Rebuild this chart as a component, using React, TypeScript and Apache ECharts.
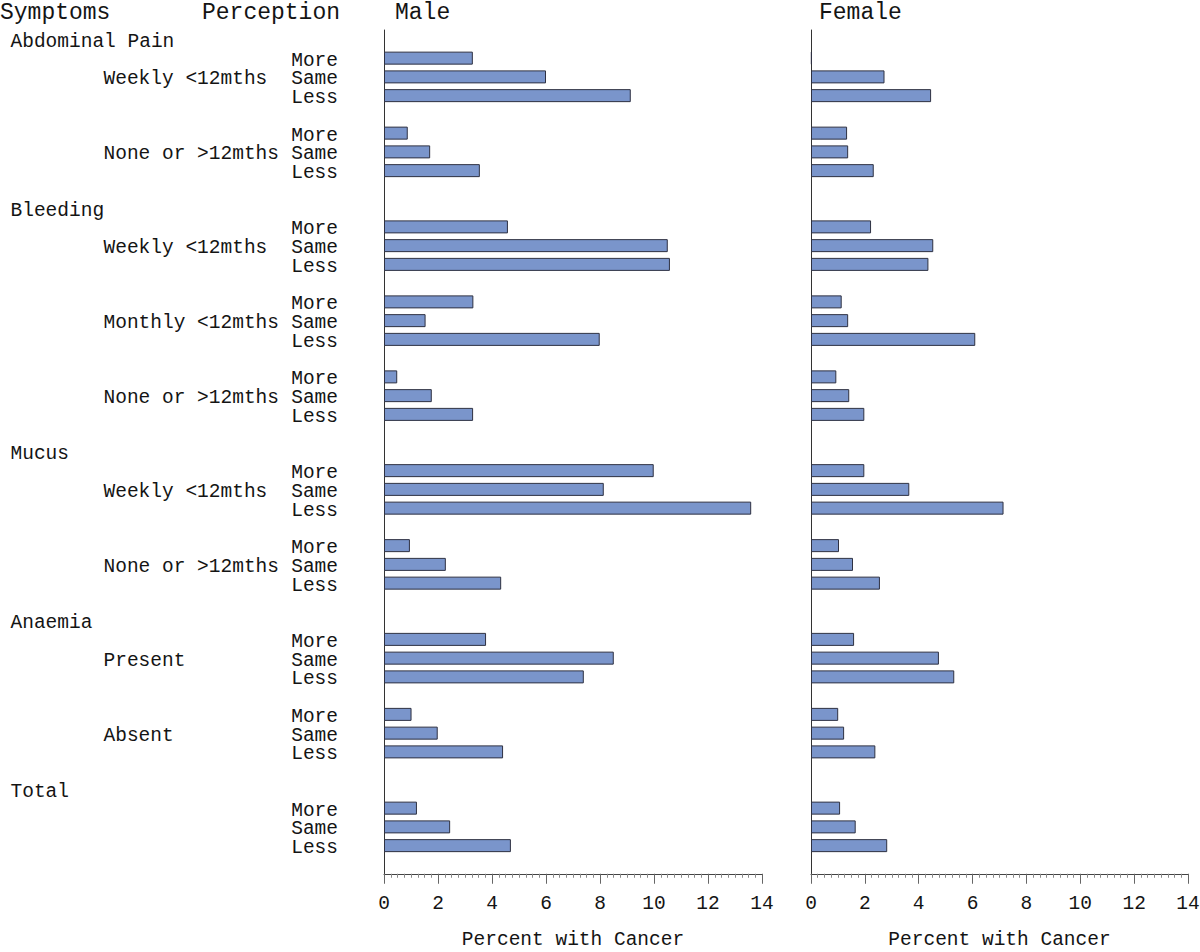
import React, { useEffect, useRef } from "react";
import * as echarts from "echarts";

// ---- data ----
const perceptions = ["More", "Same", "Less"];
const symptoms = ["Abdominal Pain", "Bleeding", "Mucus", "Anaemia", "Total"];
const subgroups = [
  ["Weekly <12mths", "None or >12mths"],
  ["Weekly <12mths", "Monthly <12mths", "None or >12mths"],
  ["Weekly <12mths", "None or >12mths"],
  ["Present", "Absent"],
  [""],
];
const maleValues = [
  [[3.29, 6.0, 9.14], [0.88, 1.71, 3.55]],
  [[4.59, 10.51, 10.59], [3.31, 1.54, 7.99], [0.49, 1.77, 3.3]],
  [[9.99, 8.14, 13.6], [0.96, 2.29, 4.34]],
  [[3.78, 8.51, 7.4], [1.02, 1.99, 4.41]],
  [[1.22, 2.45, 4.7]],
];
const femaleValues = [
  [[0.03, 2.73, 4.46], [1.34, 1.38, 2.33]],
  [[2.23, 4.54, 4.36], [1.14, 1.38, 6.1], [0.94, 1.42, 1.98]],
  [[1.98, 3.65, 7.15], [1.04, 1.56, 2.56]],
  [[1.6, 4.75, 5.32], [1.01, 1.23, 2.39]],
  [[1.08, 1.66, 2.83]],
];
const panelTitles = ["Male", "Female"];
const headerLabels = ["Symptoms", "Perception"];
const xAxisName = "Percent with Cancer";
const xMin = 0;
const xMax = 14;
const xInterval = 2;

type Row = { l1: string; l2: string; p: string; m: number | null; f: number | null };
const rows: Row[] = [];
symptoms.forEach((s, si) => {
  rows.push({ l1: s, l2: "", p: "", m: null, f: null });
  subgroups[si].forEach((g, gi) => {
    perceptions.forEach((p, pi) => {
      rows.push({
        l1: "",
        l2: pi === 1 ? g : "",
        p,
        m: maleValues[si][gi][pi],
        f: femaleValues[si][gi][pi],
      });
    });
    rows.push({ l1: "", l2: "", p: "", m: null, f: null });
  });
});
const categories = rows.map((_, i) => "r" + i);

const FONT = '"Liberation Mono", "Courier New", monospace';
const TXT = "#141414";
const BAR_FILL = "#7a95cb";
const BAR_EDGE = "#2e3142";
const AXIS = "#444";

export default function App() {
  const ref = useRef<HTMLDivElement>(null);
  useEffect(() => {
    if (!ref.current) return;
    const chart = echarts.init(ref.current, undefined, { renderer: "svg" });
    const gridTop = 30;
    const gridH = 843.75;
    const mkX = (gi: number) => ({
      type: "value",
      gridIndex: gi,
      min: xMin,
      max: xMax,
      interval: xInterval,
      axisLine: { show: true, lineStyle: { color: AXIS, width: 1 } },
      axisTick: { show: true, length: 10, lineStyle: { color: "#666" } },
      minorTick: { show: true, splitNumber: 8, length: 4, lineStyle: { color: "#888" } },
      splitLine: { show: false },
      minorSplitLine: { show: false },
      axisLabel: { margin: 20, fontFamily: FONT, fontSize: 19.5, color: TXT },
      name: xAxisName,
      nameLocation: "middle",
      nameGap: 56,
      nameTextStyle: { fontFamily: FONT, fontSize: 19.5, color: TXT },
    });
    const mkY = (gi: number, field: "p" | "l2" | "l1" | null, margin: number, align: string, line: boolean) => ({
      type: "category",
      gridIndex: gi,
      position: "left",
      data: categories,
      inverse: true,
      axisLine: { show: line, onZero: false, lineStyle: { color: "#333", width: 1 } },
      axisTick: { show: false },
      splitLine: { show: false },
      axisLabel: {
        show: field !== null,
        interval: 0,
        margin,
        align,
        fontFamily: FONT,
        fontSize: 19.5,
        lineHeight: 18,
        color: TXT,
        formatter: (_v: string, i: number) => (field ? rows[i][field] : ""),
      },
    });
    const header = (text: string, x: number, size: number) => ({
      type: "text",
      x,
      y: 13,
      style: { text, font: `${size}px ${FONT}`, fill: TXT, verticalAlign: "middle", align: "left" },
    });
    const gridBase = { top: gridTop, height: gridH, containLabel: false, outerBoundsMode: "none" };
    chart.setOption({
      animation: false,
      backgroundColor: "#fff",
      grid: [
        { ...gridBase, left: 384, width: 378 },
        { ...gridBase, left: 811, width: 377 },
        // label-only grid, nudged down so row texts sit as in the reference
        { ...gridBase, left: 384, width: 378, top: gridTop + 2.5 },
      ],
      xAxis: [mkX(0), mkX(1), { type: "value", gridIndex: 2, min: xMin, max: xMax, show: false }],
      yAxis: [
        mkY(0, null, 8, "right", true),
        mkY(1, null, 8, "right", true),
        mkY(2, "p", 46, "right", false),
        mkY(2, "l2", 280.5, "left", false),
        mkY(2, "l1", 373.5, "left", false),
      ],
      series: [
        {
          type: "bar",
          xAxisIndex: 0,
          yAxisIndex: 0,
          barWidth: 13,
          data: rows.map((r) => r.m),
          itemStyle: { color: BAR_FILL, borderColor: BAR_EDGE, borderWidth: 1 },
        },
        {
          type: "bar",
          xAxisIndex: 1,
          yAxisIndex: 1,
          barWidth: 13,
          data: rows.map((r) => r.f),
          itemStyle: { color: BAR_FILL, borderColor: BAR_EDGE, borderWidth: 1 },
        },
      ],
      graphic: [
        header(headerLabels[0], 0, 23),
        header(headerLabels[1], 202, 23),
        header(panelTitles[0], 395, 23),
        header(panelTitles[1], 819, 23),
      ],
    });
    return () => chart.dispose();
  }, []);
  return (
    <div
      ref={ref}
      style={{ position: "absolute", left: 0, top: 0, width: 1200, height: 952, background: "#fff" }}
    />
  );
}
